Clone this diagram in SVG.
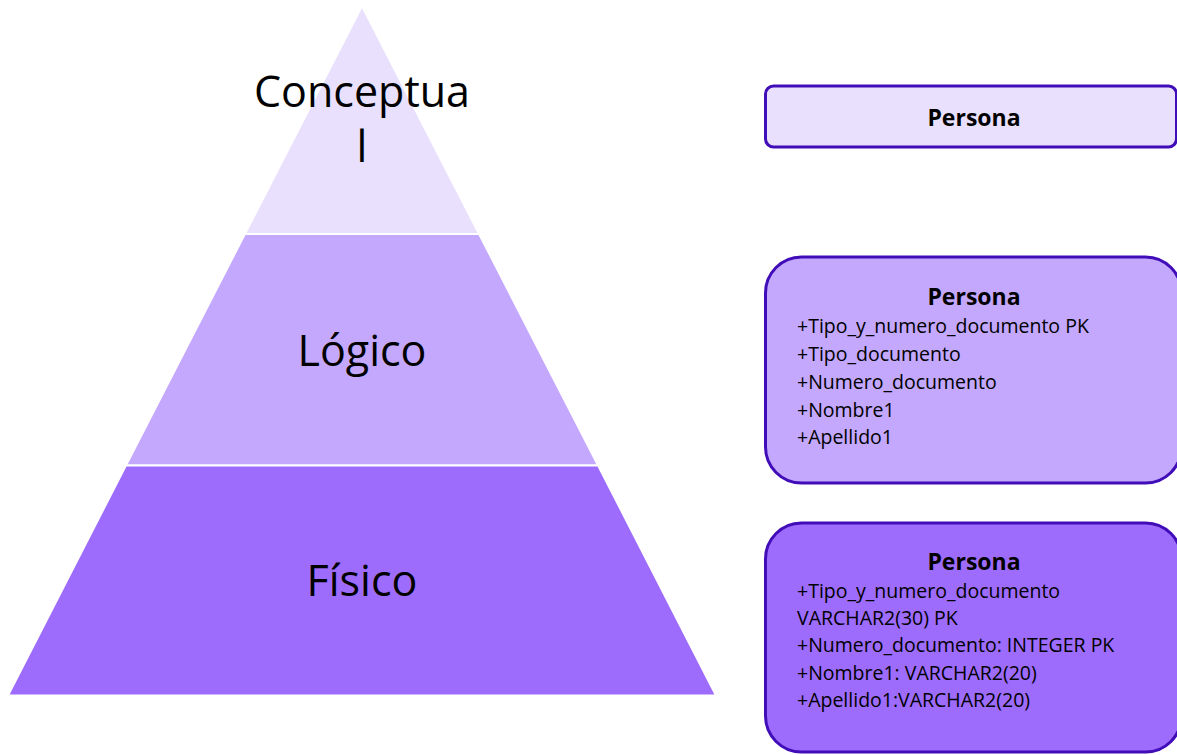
<svg xmlns="http://www.w3.org/2000/svg" width="1177" height="755" viewBox="0 0 1177 755">
<style>
.lvl{stroke:#ffffff;stroke-width:2;stroke-linejoin:miter}
.l1{fill:#E8E0FD}
.l2{fill:#C3A8FE}
.l3{fill:#9E6CFC}
.big{font-family:"Open Sans","Noto Sans","Liberation Sans",sans-serif;font-size:43px;fill:#000;text-anchor:middle}
.box{stroke:#400DB9;stroke-width:3}
.ttl{font-family:"Open Sans","Noto Sans","Liberation Sans",sans-serif;font-size:23px;font-weight:bold;fill:#000;text-anchor:middle}
.att{font-family:"Open Sans","Noto Sans","Liberation Sans",sans-serif;font-size:19.5px;fill:#000}
</style>
<rect width="1177" height="755" fill="#ffffff"/>
<g id="level-conceptual">
<polygon class="lvl l1" points="362,6 244.9,234 479.1,234"/>
<text class="big" x="362" y="107">Conceptua</text>
<text class="big" x="362" y="162">l</text>
</g>
<g id="level-logico">
<polygon class="lvl l2" points="244.9,234 479.1,234 598.1,465.5 125.9,465.5"/>
<text class="big" x="362" y="366">Lógico</text>
</g>
<g id="level-fisico">
<polygon class="lvl l3" points="125.9,465.5 598.1,465.5 716,695.5 8,695.5"/>
<text class="big" x="362" y="596">Físico</text>
</g>
<g id="box-conceptual">
<rect class="box l1" x="765.5" y="86" width="411" height="61" rx="8"/>
<text class="ttl" x="974" y="126">Persona</text>
</g>
<g id="box-logico">
<rect class="box l2" x="765.5" y="257" width="416" height="226" rx="36"/>
<text class="ttl" x="974" y="305">Persona</text>
<text class="att" x="797" y="333">+Tipo_y_numero_documento PK</text>
<text class="att" x="797" y="361">+Tipo_documento</text>
<text class="att" x="797" y="389">+Numero_documento</text>
<text class="att" x="797" y="417">+Nombre1</text>
<text class="att" x="797" y="444">+Apellido1</text>
</g>
<g id="box-fisico">
<rect class="box l3" x="765.5" y="523" width="416" height="229" rx="36"/>
<text class="ttl" x="974" y="570">Persona</text>
<text class="att" x="797" y="598">+Tipo_y_numero_documento</text>
<text class="att" x="797" y="625">VARCHAR2(30) PK</text>
<text class="att" x="797" y="652">+Numero_documento: INTEGER PK</text>
<text class="att" x="797" y="680">+Nombre1: VARCHAR2(20)</text>
<text class="att" x="797" y="707">+Apellido1:VARCHAR2(20)</text>
</g>
<g id="connectors"/>
</svg>
